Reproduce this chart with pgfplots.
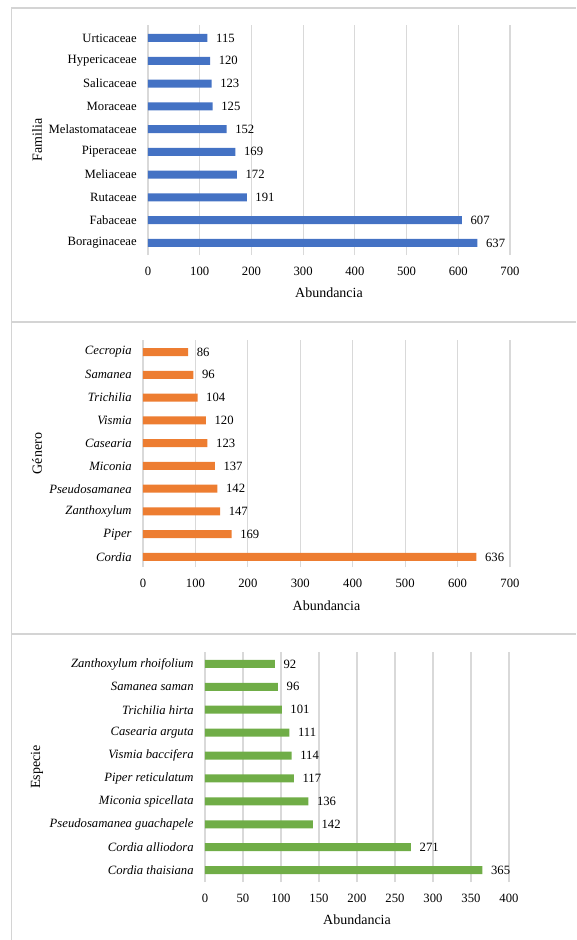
\documentclass[border=0pt]{standalone}
\usepackage{pgfplots}
\pgfplotsset{compat=1.18}
\usepackage{fontspec}
\setmainfont{Liberation Serif}
\definecolor{cblue}{HTML}{4472C4}
\definecolor{corange}{HTML}{ED7D31}
\definecolor{cgreen}{HTML}{70AD47}
\definecolor{cgrid}{HTML}{D9D9D9}
\definecolor{cborder}{HTML}{D4D4D4}
\pgfplotsset{mybar/.style={
  xbar, scale only axis, axis line style={draw=none}, major tick length=0pt,
  xmajorgrids, grid style={draw=cgrid, line width=0.9pt},
  ytick={0,...,9}, bar width=6pt, xmin=0,
  nodes near coords,
  nodes near coords style={font=\fontsize{9.5}{10}\selectfont, black, xshift=3pt},
  tick label style={font=\fontsize{9.5}{10}\selectfont, black},
  /pgf/number format/assume math mode=true,
  label style={font=\fontsize{10.5}{12}\selectfont},
  yticklabel style={xshift=-5pt},
  xticklabel style={yshift=-5.5pt},
  anchor=south west, clip=false,
}}
\begin{document}
\begin{tikzpicture}
\path[use as bounding box] (0,0) rectangle (432pt,-705pt);
\draw[cborder, line width=1.1pt] (8.6pt,-705pt) -- (8.6pt,-6pt) -- (432pt,-6pt);
\draw[cborder, line width=1.1pt] (8.6pt,-241.5pt) -- (432pt,-241.5pt);
\draw[cborder, line width=1.1pt] (8.6pt,-475.5pt) -- (432pt,-475.5pt);

% Panel 1: Familia
\begin{axis}[mybar, at={(111pt,-191.25pt)}, width=271.5pt, height=172.5pt,
  xmax=700, xtick={0,100,...,700}, ymin=-0.53, ymax=9.57,
  yticklabels={Boraginaceae,Fabaceae,Rutaceae,Meliaceae,Piperaceae,Melastomataceae,Moraceae,Salicaceae,Hypericaceae,Urticaceae},
  xlabel={Abundancia}, ylabel={Familia},
  xlabel style={at={(axis description cs:0.5,-0.165)}, anchor=center},
  ylabel style={at={(axis description cs:-0.3066,0.5)}, anchor=center},
]
\addplot[fill=cblue, draw=none] coordinates {
(637,0) (607,1) (191,2) (172,3) (169,4) (152,5) (125,6) (123,7) (120,8) (115,9)};
\end{axis}

% Panel 2: Genero
\begin{axis}[mybar, at={(107.25pt,-425.25pt)}, width=275.25pt, height=170.25pt,
  xmax=700, xtick={0,100,...,700}, ymin=-0.44, ymax=9.53,
  yticklabels={\textit{Cordia},\textit{Piper},\textit{Zanthoxylum},\textit{Pseudosamanea},\textit{Miconia},\textit{Casearia},\textit{Vismia},\textit{Trichilia},\textit{Samanea},\textit{Cecropia}},
  xlabel={Abundancia}, ylabel={Género},
  xlabel style={at={(axis description cs:0.5,-0.172)}, anchor=center},
  ylabel style={at={(axis description cs:-0.2888,0.5)}, anchor=center},
]
\addplot[fill=corange, draw=none] coordinates {
(636,0) (169,1) (147,2) (142,3) (137,4) (123,5) (120,6) (104,7) (96,8) (86,9)};
\end{axis}

% Panel 3: Especie
\begin{axis}[mybar, at={(153.75pt,-661.5pt)}, width=228pt, height=172.5pt,
  xmax=400, xtick={0,50,...,400}, ymin=-0.52, ymax=9.52,
  yticklabels={\textit{Cordia thaisiana},\textit{Cordia alliodora},\textit{Pseudosamanea guachapele},\textit{Miconia spicellata},\textit{Piper reticulatum},\textit{Vismia baccifera},\textit{Casearia arguta},\textit{Trichilia hirta},\textit{Samanea saman},\textit{Zanthoxylum rhoifolium}},
  xlabel={Abundancia}, ylabel={Especie},
  xlabel style={at={(axis description cs:0.5,-0.165)}, anchor=center},
  ylabel style={at={(axis description cs:-0.5526,0.5)}, anchor=center},
]
\addplot[fill=cgreen, draw=none] coordinates {
(365,0) (271,1) (142,2) (136,3) (117,4) (114,5) (111,6) (101,7) (96,8) (92,9)};
\end{axis}
\end{tikzpicture}
\end{document}
